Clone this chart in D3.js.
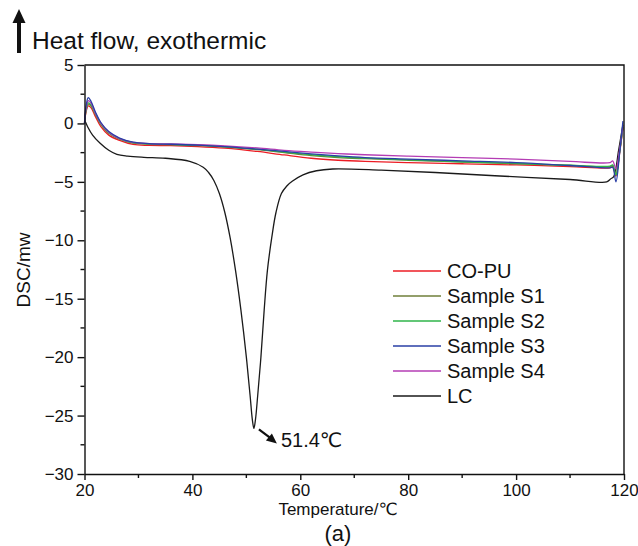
<html>
  <head>
    <title>DSC curves</title>
    <script src="https://d3js.org/d3.v7.min.js"></script>
    <style>
      body {
        margin: 0;
        background: #fff;
      }
      text {
        font-family: "Liberation Sans", Arial, "DejaVu Sans", sans-serif;
        fill: #111;
      }
      .axis path,
      .axis line {
        stroke: #111;
        stroke-width: 1.4px;
      }
      .frame {
        stroke: #111;
        stroke-width: 1.4px;
        fill: none;
      }
      .curve {
        fill: none;
        stroke-width: 1.3px;
      }
    </style>
  </head>
  <body>
    <svg id="dsc" width="638" height="546"></svg>

    <script>
      // ---- data ----
      const seriesNames = ["CO-PU", "Sample S1", "Sample S2", "Sample S3", "Sample S4", "LC"];
      const seriesColors = ["#ec1c24", "#6f7f3a", "#2fb44a", "#2a3fa6", "#b43cb4", "#1a1a1a"];

      // temperatures (deg C) shared by the five PU samples
      const tempSamples = [20, 20.3, 20.7, 21.2, 22, 23, 24.5, 26.5, 29, 32, 36, 41, 46, 52, 57, 62, 67, 72, 80, 90, 100, 110, 117.4, 117.9, 118.5, 119.2, 119.8];
      const coPU = [0.1, 1.0, 1.5, 1.35, 0.6, -0.25, -1.0, -1.45, -1.8, -1.88, -1.9, -1.98, -2.12, -2.4, -2.7, -2.98, -3.15, -3.25, -3.35, -3.45, -3.55, -3.7, -3.8, -3.7, -4.5, -2.5, -0.4];
      const sampleS1 = [0.0, 1.1, 1.65, 1.5, 0.8, -0.05, -0.85, -1.35, -1.68, -1.78, -1.83, -1.9, -2.02, -2.25, -2.5, -2.75, -2.92, -3.02, -3.15, -3.3, -3.45, -3.6, -3.7, -3.6, -4.4, -2.4, -0.3];
      const sampleS2 = [0.0, 1.2, 1.75, 1.6, 0.85, 0.0, -0.8, -1.32, -1.65, -1.75, -1.8, -1.86, -1.98, -2.2, -2.45, -2.68, -2.85, -2.97, -3.12, -3.28, -3.42, -3.58, -3.65, -3.55, -4.4, -2.4, -0.3];
      const sampleS3 = [0.0, 1.5, 2.2, 1.9, 1.0, 0.1, -0.7, -1.25, -1.6, -1.72, -1.78, -1.85, -1.98, -2.2, -2.4, -2.6, -2.78, -2.92, -3.05, -3.2, -3.35, -3.6, -3.8, -3.75, -5.0, -2.5, 0.2];
      const sampleS4 = [0.0, 1.3, 1.95, 1.75, 0.9, 0.05, -0.75, -1.3, -1.62, -1.72, -1.76, -1.82, -1.92, -2.1, -2.3, -2.45, -2.58, -2.68, -2.8, -2.93, -3.05, -3.25, -3.35, -3.2, -3.9, -2.2, -0.2];

      // liquid crystal (LC) has its own temperature points because of the melting peak
      const tempLC = [20.1, 20.6, 21.5, 22.9, 24.5, 26, 28, 31, 35, 39.5, 42, 43, 44, 45, 46, 47, 48, 49, 50, 50.7, 51.1, 51.4, 51.7, 52.1, 52.7, 53.3, 53.9, 54.7, 55.5, 56.5, 57.5, 58.5, 60.5, 63, 66, 75, 85, 97, 110, 116.8, 117.5, 118.1, 119, 119.8];
      const lcValues = [0.2, -0.3, -1.0, -1.7, -2.3, -2.65, -2.8, -2.9, -2.98, -3.25, -3.75, -4.2, -4.9, -6.0, -7.6, -9.8, -12.6, -16.0, -20.0, -23.3, -25.3, -26.1, -25.3, -23.3, -20.0, -16.0, -12.6, -9.8, -7.6, -6.0, -5.35, -4.95, -4.4, -4.05, -3.9, -4.0, -4.2, -4.5, -4.8, -5.0, -4.75, -4.55, -2.3, -0.1];

      const peakTemp = 51.4;
      const peakValue = -26.1;

      const xTicks = [20, 40, 60, 80, 100, 120];
      const yTicks = [5, 0, -5, -10, -15, -20, -25, -30];

      // ---- layout ----
      const svg = d3.select("#dsc");
      const margin = { top: 65, right: 14, bottom: 72, left: 84.5 };
      const width = +svg.attr("width");
      const height = +svg.attr("height");

      const x = d3.scaleLinear().domain([20, 120]).range([margin.left, width - margin.right]);
      const y = d3.scaleLinear().domain([-30, 5]).range([height - margin.bottom, margin.top]);

      const sampleValues = [coPU, sampleS1, sampleS2, sampleS3, sampleS4];
      const series = sampleValues.map((vals, i) => ({
        name: seriesNames[i],
        color: seriesColors[i],
        points: tempSamples.map((t, j) => [t, vals[j]])
      }));
      series.push({
        name: seriesNames[5],
        color: seriesColors[5],
        points: tempLC.map((t, j) => [t, lcValues[j]])
      });

      const line = d3
        .line()
        .x((d) => x(d[0]))
        .y((d) => y(d[1]))
        .curve(d3.curveCatmullRom.alpha(0.5));

      // curves (LC first, then samples so the colours sit on top)
      const drawOrder = [5, 0, 1, 2, 4, 3];
      svg
        .append("g")
        .selectAll("path.curve")
        .data(drawOrder.map((i) => series[i]))
        .join("path")
        .attr("class", "curve")
        .attr("stroke", (d) => d.color)
        .attr("d", (d) => line(d.points));

      // frame: top and right borders
      svg
        .append("path")
        .attr("class", "frame")
        .attr("d", `M${x(20)},${y(5)}H${x(120)}V${y(-30)}`);

      // minor ticks
      const xMinor = d3.range(30, 120, 20);
      const yMinor = d3.range(2.5, -30, -5);

      const xAxis = svg
        .append("g")
        .attr("class", "axis")
        .attr("transform", `translate(0,${y(-30)})`)
        .call(d3.axisBottom(x).tickValues(xTicks).tickSize(6).tickPadding(4).tickSizeOuter(0));
      xAxis.selectAll("text").attr("font-size", 17);
      xAxis
        .selectAll("line.minor")
        .data(xMinor)
        .join("line")
        .attr("class", "minor")
        .attr("x1", (d) => x(d))
        .attr("x2", (d) => x(d))
        .attr("y1", 0)
        .attr("y2", 4);

      const yAxis = svg
        .append("g")
        .attr("class", "axis")
        .attr("transform", `translate(${x(20)},0)`)
        .call(d3.axisLeft(y).tickValues(yTicks).tickSize(7).tickPadding(4).tickSizeOuter(0));
      yAxis.selectAll("text").attr("font-size", 17);
      yAxis
        .selectAll("line.minor")
        .data(yMinor)
        .join("line")
        .attr("class", "minor")
        .attr("x1", -4)
        .attr("x2", 0)
        .attr("y1", (d) => y(d))
        .attr("y2", (d) => y(d));
      svg.selectAll(".axis text").attr("fill", "#111");
      svg.selectAll(".axis").attr("font-family", null);

      // axis titles
      svg
        .append("text")
        .attr("x", 338)
        .attr("y", 515)
        .attr("text-anchor", "middle")
        .attr("font-size", 17)
        .text("Temperature/℃");

      svg
        .append("text")
        .attr("transform", "translate(30,270) rotate(-90)")
        .attr("text-anchor", "middle")
        .attr("font-size", 19)
        .text("DSC/mw");

      svg
        .append("text")
        .attr("x", 338)
        .attr("y", 541)
        .attr("text-anchor", "middle")
        .attr("font-size", 22)
        .text("(a)");

      // heat flow arrow + title
      svg
        .append("line")
        .attr("x1", 19)
        .attr("x2", 19)
        .attr("y1", 53)
        .attr("y2", 20)
        .attr("stroke", "#111")
        .attr("stroke-width", 4);
      svg
        .append("path")
        .attr("d", "M19,9 L25.5,23 L12.5,23 Z")
        .attr("fill", "#111");
      svg
        .append("text")
        .attr("x", 32)
        .attr("y", 49)
        .attr("font-size", 24.5)
        .text("Heat flow, exothermic");

      // peak annotation
      const px = x(peakTemp);
      const py = y(peakValue);
      svg
        .append("line")
        .attr("x1", px + 5)
        .attr("y1", py + 1)
        .attr("x2", px + 17)
        .attr("y2", py + 10)
        .attr("stroke", "#111")
        .attr("stroke-width", 2.2);
      svg
        .append("path")
        .attr("d", `M${px + 23},${py + 15} L${px + 12},${py + 12} L${px + 18},${py + 5} Z`)
        .attr("fill", "#111");
      svg
        .append("text")
        .attr("x", px + 27)
        .attr("y", py + 19)
        .attr("font-size", 20)
        .text("51.4℃");

      // legend
      const legend = svg.append("g").attr("transform", "translate(393,271)");
      const rows = legend
        .selectAll("g")
        .data(series)
        .join("g")
        .attr("transform", (d, i) => `translate(0,${i * 25})`);
      rows
        .append("line")
        .attr("x1", 0)
        .attr("x2", 48)
        .attr("stroke", (d) => d.color)
        .attr("stroke-width", 1.5);
      rows
        .append("text")
        .attr("x", 54)
        .attr("y", 7)
        .attr("font-size", 20)
        .text((d) => d.name);
    </script>
  </body>
</html>
